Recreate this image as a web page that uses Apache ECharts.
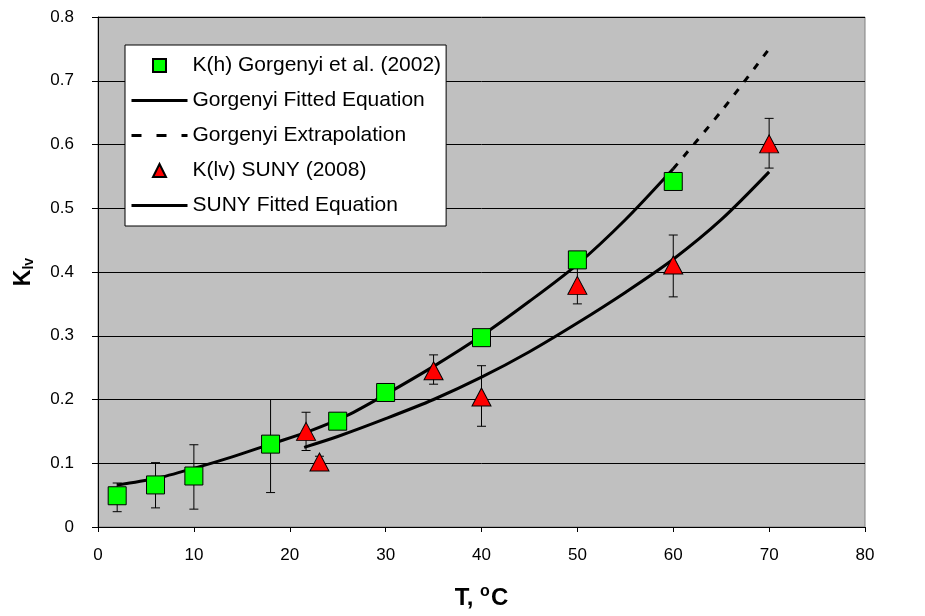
<!DOCTYPE html>
<html>
<head>
<meta charset="utf-8">
<script src="https://cdn.jsdelivr.net/npm/echarts@6/dist/echarts.min.js"></script>
<style>
  html, body { margin: 0; padding: 0; background: #fff; }
  #main { width: 925px; height: 616px; }
</style>
</head>
<body>
<div id="main"></div>
<script>
// measured points, Gorgenyi et al. (2002)
var gorT = [2, 6, 10, 18, 25, 30, 40, 50, 60];
var gorK = [0.049, 0.066, 0.080, 0.130, 0.166, 0.211, 0.297, 0.419, 0.542];
var gorLow = [0.024, 0.030, 0.028, 0.054, null, null, null, null, null];
var gorHigh = [0.069, 0.101, 0.129, 0.200, null, null, null, null, null];

// SUNY (2008)
var sunyT = [21.7, 23.1, 35, 40, 50, 60, 70];
var sunyK = [0.150, 0.102, 0.245, 0.204, 0.379, 0.411, 0.601];
var sunyLow = [0.120, 0.094, 0.224, 0.158, 0.350, 0.361, 0.563];
var sunyHigh = [0.180, 0.111, 0.270, 0.253, 0.408, 0.458, 0.641];

// fitted curves
var gorFitT = [2, 6, 10, 14, 18, 22, 26, 30, 35, 40, 45, 50, 55, 60];
var gorFitK = [0.066, 0.076, 0.092, 0.110, 0.130, 0.150, 0.175, 0.208, 0.252, 0.300, 0.354, 0.412, 0.482, 0.562];
var gorExtT = [60, 65, 70];
var gorExtK = [0.562, 0.652, 0.750];
var sunyFitT = [21.5, 25, 30, 35, 40, 45, 50, 55, 60, 65, 70];
var sunyFitK = [0.125, 0.142, 0.170, 0.200, 0.235, 0.275, 0.320, 0.368, 0.420, 0.482, 0.557];

var xTicks = [0, 10, 20, 30, 40, 50, 60, 70, 80];

var FONT = '"Liberation Sans", Arial, sans-serif';

// legend icons: small marker centred in a 56 x 13 box
var ICON_SQUARE = 'path://M0,0M56,13M21.5,0L34.5,0L34.5,13L21.5,13Z';
var ICON_TRI = 'path://M0,0M56,13M28,0L34.5,13L21.5,13Z';

function pairs(xs, ys) {
  var out = [];
  for (var i = 0; i < xs.length; i++) out.push([xs[i], ys[i]]);
  return out;
}
function errRows(xs, lo, hi) {
  var out = [];
  for (var i = 0; i < xs.length; i++) {
    if (lo[i] != null) out.push([xs[i], lo[i], hi[i]]);
  }
  return out;
}

function renderErr(params, api) {
  var x = api.value(0);
  var top = api.coord([x, api.value(2)]);
  var bot = api.coord([x, api.value(1)]);
  var w = 4.5;
  var st = { stroke: '#000', lineWidth: 1 };
  return {
    type: 'group',
    children: [
      { type: 'line', shape: { x1: top[0], y1: top[1], x2: bot[0], y2: bot[1] }, style: st },
      { type: 'line', shape: { x1: top[0] - w, y1: top[1], x2: top[0] + w, y2: top[1] }, style: st },
      { type: 'line', shape: { x1: bot[0] - w, y1: bot[1], x2: bot[0] + w, y2: bot[1] }, style: st }
    ]
  };
}

var chart = echarts.init(document.getElementById('main'));

var option = {
  animation: false,
  textStyle: { fontFamily: FONT },
  grid: {
    left: 98, right: 60, top: 17, bottom: 89,
    show: true,
    backgroundColor: '#C0C0C0',
    borderColor: '#808080',
    borderWidth: 1
  },
  legend: {
    orient: 'vertical',
    left: 125, top: 45,
    padding: [10, 5, 10, 5],
    itemWidth: 56,
    itemHeight: 13,
    itemGap: 14,
    backgroundColor: '#fff',
    borderColor: '#000',
    borderWidth: 1,
    textStyle: { fontSize: 21, color: '#000', fontFamily: FONT },
    data: [
      { name: 'K(h) Gorgenyi et al. (2002)', icon: ICON_SQUARE },
      { name: 'Gorgenyi Fitted Equation', lineStyle: { width: 3, color: '#000' } },
      { name: 'Gorgenyi Extrapolation', lineStyle: { width: 3, color: '#000', type: [10, 15] } },
      { name: 'K(lv) SUNY (2008)', icon: ICON_TRI },
      { name: 'SUNY Fitted Equation', lineStyle: { width: 3, color: '#000' } }
    ]
  },
  xAxis: {
    type: 'value',
    min: 0, max: 80, interval: 10,
    name: '{a|T, }{o|o}{a|C}',
    nameLocation: 'middle',
    nameGap: 57,
    nameTextStyle: {
      color: '#000',
      rich: {
        a: { fontSize: 24, fontWeight: 'bold', fontFamily: FONT, color: '#000' },
        o: { fontSize: 16, fontWeight: 'bold', fontFamily: FONT, color: '#000', padding: [0, 1, 12, 0] }
      }
    },
    axisLine: { lineStyle: { color: '#000', width: 1 } },
    axisTick: { show: true, length: 5, lineStyle: { color: '#000' } },
    axisLabel: {
      color: '#000', fontSize: 17, margin: 20, fontFamily: FONT,
      formatter: function (v) { return xTicks.indexOf(v) >= 0 ? String(v) : ''; }
    },
    splitLine: { show: false }
  },
  yAxis: {
    type: 'value',
    min: 0, max: 0.8, interval: 0.1,
    name: '{k|K}{s|lv}',
    nameLocation: 'middle',
    nameGap: 62,
    nameTextStyle: {
      color: '#000',
      rich: {
        k: { fontSize: 23, fontWeight: 'bold', fontFamily: FONT, color: '#000' },
        s: { fontSize: 14, fontWeight: 'bold', fontFamily: FONT, color: '#000', padding: [10, 0, 0, 0] }
      }
    },
    axisLine: { show: true, lineStyle: { color: '#000', width: 1 } },
    axisTick: { show: true, length: 6, lineStyle: { color: '#000' } },
    axisLabel: {
      color: '#000', fontSize: 17, margin: 24, fontFamily: FONT,
      formatter: function (v) { return v === 0 ? '0' : v.toFixed(1); }
    },
    splitLine: { show: true, lineStyle: { color: '#000', width: 1 } }
  },
  series: [
    {
      name: 'Gorgenyi Fitted Equation',
      type: 'line',
      data: pairs(gorFitT, gorFitK),
      smooth: 0.3,
      symbol: 'none',
      lineStyle: { color: '#000', width: 3 },
      itemStyle: { color: 'rgba(0,0,0,0)', borderWidth: 0 },
      z: 2
    },
    {
      name: 'Gorgenyi Extrapolation',
      type: 'line',
      data: pairs(gorExtT, gorExtK),
      smooth: 0.3,
      symbol: 'none',
      lineStyle: { color: '#000', width: 3, type: [7, 9] },
      itemStyle: { color: 'rgba(0,0,0,0)', borderWidth: 0 },
      z: 2
    },
    {
      name: 'SUNY Fitted Equation',
      type: 'line',
      data: pairs(sunyFitT, sunyFitK),
      smooth: 0.3,
      symbol: 'none',
      lineStyle: { color: '#000', width: 3 },
      itemStyle: { color: 'rgba(0,0,0,0)', borderWidth: 0 },
      z: 2
    },
    {
      name: 'gorErr',
      type: 'custom',
      renderItem: renderErr,
      data: errRows(gorT, gorLow, gorHigh),
      encode: { x: 0, y: [1, 2] },
      z: 3,
      silent: true
    },
    {
      name: 'sunyErr',
      type: 'custom',
      renderItem: renderErr,
      data: errRows(sunyT, sunyLow, sunyHigh),
      encode: { x: 0, y: [1, 2] },
      z: 3,
      silent: true
    },
    {
      name: 'K(h) Gorgenyi et al. (2002)',
      type: 'scatter',
      data: pairs(gorT, gorK),
      symbol: 'rect',
      symbolSize: 18,
      itemStyle: { color: '#00FF00', borderColor: '#000', borderWidth: 1, opacity: 1 },
      z: 4
    },
    {
      name: 'K(lv) SUNY (2008)',
      type: 'scatter',
      data: pairs(sunyT, sunyK),
      symbol: 'triangle',
      symbolSize: [19, 18],
      itemStyle: { color: '#FF0000', borderColor: '#000', borderWidth: 1, opacity: 1 },
      z: 4
    }
  ]
};

chart.setOption(option);
</script>
</body>
</html>
